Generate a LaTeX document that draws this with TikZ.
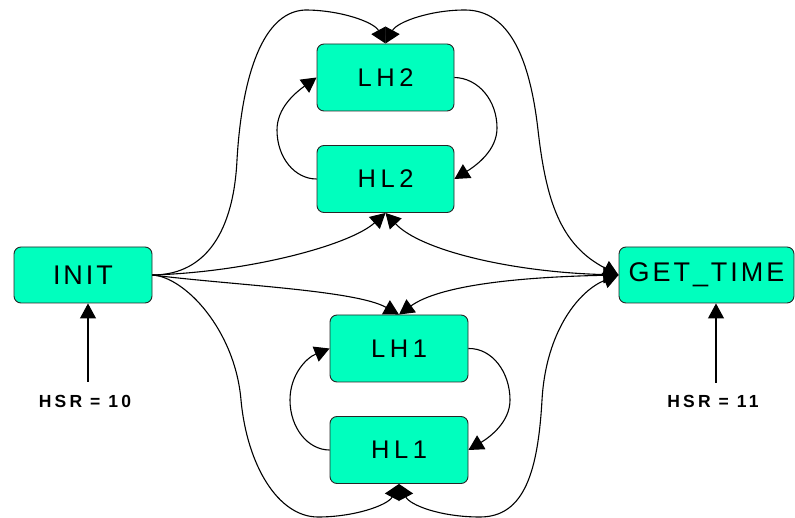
\documentclass[tikz,border=0pt]{standalone}
\usepackage{fontspec}
\setmainfont{Liberation Sans}
\newfontfamily\boxfontA[LetterSpace=11]{Liberation Sans}
\newfontfamily\boxfontB[LetterSpace=18]{Liberation Sans}
\newfontfamily\lblfont[LetterSpace=18]{Liberation Sans}
\usetikzlibrary{arrows.meta}
\definecolor{mint}{RGB}{0,255,190}
\begin{document}
\begin{tikzpicture}[x=1pt,y=-1pt,
  state/.style={draw=black!85, line width=0.9pt, fill=mint, rounded corners=7pt,
    minimum height=67pt, minimum width=137pt, inner sep=0pt,
    font=\boxfontB\fontsize{25.5}{30}\selectfont},
  wide/.style={state, minimum height=56pt, font=\boxfontA\fontsize{27}{32}\selectfont},
  conn/.style={line width=1.1pt, -{Triangle[length=15pt,width=16pt]}},
  both/.style={line width=1.1pt, {Triangle[length=15pt,width=16pt]}-{Triangle[length=15pt,width=16pt]}},
  lbl/.style={font=\lblfont\bfseries\fontsize{17.5}{21}\selectfont, inner sep=0pt}]
\useasboundingbox (0,0) rectangle (795,518);

\node[wide, minimum width=138pt] (init) at (83,275) {INIT};
\node[wide, minimum width=175pt] (gt) at (706.5,275) {GET\_TIME};
\node[state] (lh2) at (385.5,77.5) {LH2};
\node[state] (hl2) at (385.5,179) {HL2};
\node[state, minimum width=138pt] (lh1) at (399,348.5) {LH1};
\node[state, minimum width=138pt] (hl1) at (399,450) {HL1};
\node[lbl] (h10) at (85,401) {HSR = 10};
\node[lbl] (h11) at (713,401) {HSR = 11};
\coordinate (a10) at (88,382);
\coordinate (a11) at (716,383);

\draw[conn] (a10) -- (a10 |- init.south);
\draw[conn] (a11) -- (a11 |- gt.south);

% outer top
\draw[conn] (init.east) .. controls (200,275) and (233,240) .. (237,160)
  .. controls (241,90) and (258,12) .. (305,10)
  .. controls (340,10) and (374,22) .. (lh2.north);
\draw[both] (lh2.north) .. controls (397,22) and (430,10) .. (465,10)
  .. controls (510,10) and (530,60) .. (538,130)
  .. controls (546,200) and (560,245) .. (gt.west);

% middle
\draw[conn] (init.east) .. controls (250,272) and (350,245) .. (hl2.south);
\draw[conn] (init.east) .. controls (230,285) and (355,290) .. (lh1.north);
\draw[both] (hl2.south) .. controls (420,250) and (510,272) .. (gt.west);
\draw[both] (gt.west) .. controls (520,277) and (440,285) .. (lh1.north);

% outer bottom
\draw[conn] (init.east) .. controls (185,277) and (235,330) .. (241,400)
  .. controls (247,465) and (278,517) .. (318,517)
  .. controls (355,517) and (388,505) .. (hl1.south);
\draw[both] (hl1.south) .. controls (410,505) and (440,517) .. (480,517)
  .. controls (525,517) and (538,470) .. (542,400)
  .. controls (546,330) and (580,290) .. (gt.west);

% loops
\draw[conn] (lh2.east) .. controls (478,78) and (497,100) .. (497,128)
  .. controls (497,150) and (477,165) .. (hl2.east);
\draw[conn] (hl2.west) .. controls (295,179) and (277,158) .. (277,130)
  .. controls (277,108) and (295,93) .. (lh2.west);
\draw[conn] (lh1.east) .. controls (492,348) and (510,372) .. (510,400)
  .. controls (510,422) and (490,437) .. (hl1.east);
\draw[conn] (hl1.west) .. controls (308,450) and (290,428) .. (290,400)
  .. controls (290,375) and (306,358) .. (lh1.west);
\end{tikzpicture}
\end{document}
